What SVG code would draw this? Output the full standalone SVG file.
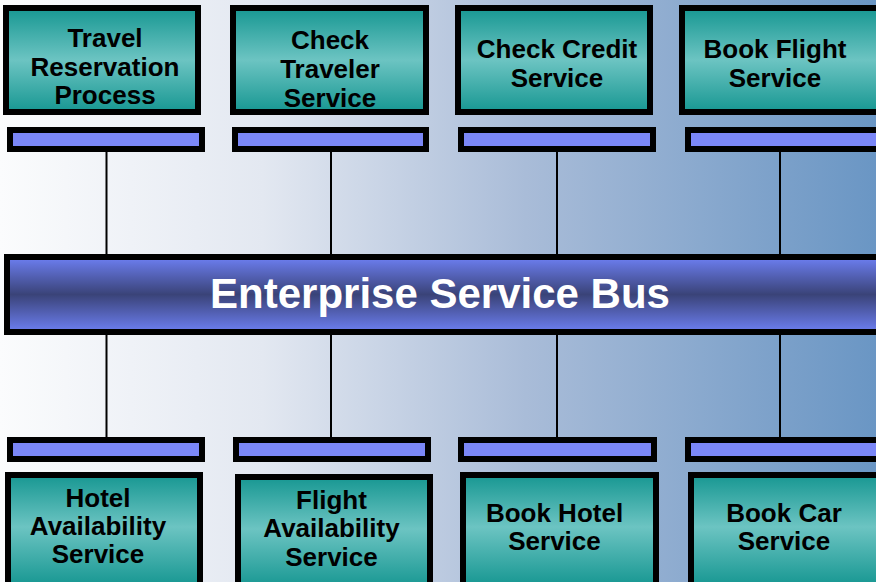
<svg xmlns="http://www.w3.org/2000/svg" width="876" height="582" viewBox="0 0 876 582">
  <defs>
    <linearGradient id="bg" x1="0" y1="0" x2="1" y2="0">
      <stop offset="0" stop-color="#fbfcfd"/>
      <stop offset="0.3" stop-color="#e3e8f1"/>
      <stop offset="0.6" stop-color="#a9bcd8"/>
      <stop offset="1" stop-color="#6a96c4"/>
    </linearGradient>
    <linearGradient id="teal" x1="0" y1="0" x2="0" y2="1">
      <stop offset="0" stop-color="#179792"/>
      <stop offset="0.5" stop-color="#6cc4c2"/>
      <stop offset="1" stop-color="#179792"/>
    </linearGradient>
    <linearGradient id="tealB" x1="0" y1="0" x2="0" y2="1">
      <stop offset="0" stop-color="#179792"/>
      <stop offset="0.4" stop-color="#6cc4c2"/>
      <stop offset="0.85" stop-color="#179792"/>
    </linearGradient>
    <linearGradient id="bus" x1="0" y1="0" x2="0" y2="1">
      <stop offset="0" stop-color="#6d7ff2"/>
      <stop offset="0.5" stop-color="#3a4378"/>
      <stop offset="1" stop-color="#6d7ff2"/>
    </linearGradient>
  </defs>
  <style>
    .box { fill: url(#teal); stroke: #000; stroke-width: 6; }
    .boxB { fill: url(#tealB); stroke: #000; stroke-width: 6; }
    .bar { fill: #7b87f7; stroke: #000; stroke-width: 6; }
    .lbl { font-family: "Liberation Sans", Arial, sans-serif; font-weight: bold; font-size: 26px; fill: #000; text-anchor: middle; }
    .bus { font-family: "Liberation Sans", Arial, sans-serif; font-weight: bold; font-size: 42px; fill: #fff; text-anchor: middle; }
    .conn { stroke: #000; stroke-width: 2; fill: none; }
  </style>
  <rect x="0" y="0" width="876" height="582" fill="url(#bg)"/>

  <g id="connectors">
    <line class="conn" x1="106.5" y1="152" x2="106.5" y2="254"/>
    <line class="conn" x1="331" y1="152" x2="331" y2="254"/>
    <line class="conn" x1="557" y1="152" x2="557" y2="254"/>
    <line class="conn" x1="780" y1="152" x2="780" y2="254"/>
    <line class="conn" x1="106.5" y1="335" x2="106.5" y2="437"/>
    <line class="conn" x1="331" y1="335" x2="331" y2="437"/>
    <line class="conn" x1="557" y1="335" x2="557" y2="437"/>
    <line class="conn" x1="780" y1="335" x2="780" y2="437"/>
  </g>

  <g id="travel-reservation">
    <rect class="box" x="6" y="8" width="192" height="104"/>
    <text class="lbl" x="105" y="47">Travel</text>
    <text class="lbl" x="105" y="76">Reservation</text>
    <text class="lbl" x="105" y="104">Process</text>
  </g>
  <g id="check-traveler">
    <rect class="box" x="233" y="8" width="193" height="104"/>
    <text class="lbl" x="330" y="49">Check</text>
    <text class="lbl" x="330" y="78">Traveler</text>
    <text class="lbl" x="330" y="107">Service</text>
  </g>
  <g id="check-credit">
    <rect class="box" x="458" y="8" width="192" height="104"/>
    <text class="lbl" x="557" y="58">Check Credit</text>
    <text class="lbl" x="557" y="87">Service</text>
  </g>
  <g id="book-flight">
    <rect class="box" x="682" y="8" width="200" height="104"/>
    <text class="lbl" x="775" y="58">Book Flight</text>
    <text class="lbl" x="775" y="87">Service</text>
  </g>

  <g id="top-adapters">
    <rect class="bar" x="10" y="130" width="192" height="19"/>
    <rect class="bar" x="235" y="130" width="191" height="19"/>
    <rect class="bar" x="461" y="130" width="192" height="19"/>
    <rect class="bar" x="688" y="130" width="200" height="19"/>
  </g>

  <g id="esb">
    <rect x="7" y="257" width="880" height="75" fill="url(#bus)" stroke="#000" stroke-width="6"/>
    <text class="bus" x="440" y="308">Enterprise Service Bus</text>
  </g>

  <g id="bottom-adapters">
    <rect class="bar" x="10" y="440" width="192" height="19"/>
    <rect class="bar" x="236" y="440" width="192" height="19"/>
    <rect class="bar" x="461" y="440" width="193" height="19"/>
    <rect class="bar" x="688" y="440" width="200" height="19"/>
  </g>

  <g id="hotel-availability">
    <rect class="boxB" x="8" y="475" width="192" height="130"/>
    <text class="lbl" x="98" y="507">Hotel</text>
    <text class="lbl" x="98" y="535">Availability</text>
    <text class="lbl" x="98" y="563">Service</text>
  </g>
  <g id="flight-availability">
    <rect class="boxB" x="238" y="477" width="192" height="130"/>
    <text class="lbl" x="331.5" y="509">Flight</text>
    <text class="lbl" x="331.5" y="537">Availability</text>
    <text class="lbl" x="331.5" y="566">Service</text>
  </g>
  <g id="book-hotel">
    <rect class="boxB" x="463" y="475" width="193" height="130"/>
    <text class="lbl" x="554.5" y="522">Book Hotel</text>
    <text class="lbl" x="554.5" y="550">Service</text>
  </g>
  <g id="book-car">
    <rect class="boxB" x="691" y="475" width="200" height="130"/>
    <text class="lbl" x="784" y="522">Book Car</text>
    <text class="lbl" x="784" y="550">Service</text>
  </g>
</svg>
